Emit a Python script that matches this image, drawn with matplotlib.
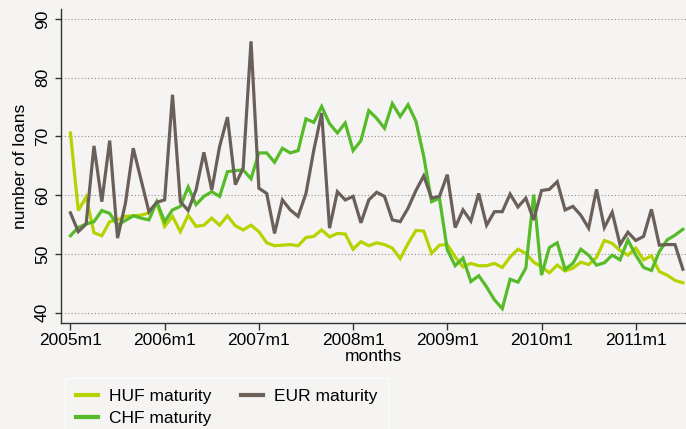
import numpy as np
import matplotlib
matplotlib.use("Agg")
import matplotlib.pyplot as plt

# ==========================
# Data (monthly, 2005m1 .. 2011m7)
# ==========================
huf = [70.6, 57.4, 59.7, 53.6, 53.1, 55.5, 55.8, 56.4, 56.5, 56.6, 57.0, 58.6,
       54.7, 56.4, 53.8, 56.6, 54.7, 54.9, 56.1, 54.9, 56.5, 54.8, 54.1, 54.9,
       53.8, 51.9, 51.4, 51.5, 51.6, 51.4, 52.8, 53.0, 54.1, 52.9, 53.5, 53.4,
       50.8, 52.1, 51.4, 51.9, 51.6, 51.0, 49.2, 51.8, 54.0, 53.9, 50.1, 51.5,
       51.6, 49.5, 47.8, 48.4, 48.0, 48.0, 48.4, 47.7, 49.5, 50.8, 50.1, 48.6,
       47.8, 46.8, 48.1, 47.1, 47.6, 48.6, 48.2, 49.4, 52.3, 51.8, 50.6, 49.8,
       51.0, 49.0, 49.7, 47.0, 46.4, 45.5, 45.1]
chf = [53.1, 54.5, 55.1, 55.5, 57.4, 56.9, 54.9, 55.7, 56.5, 56.1, 55.8, 58.9,
       55.5, 57.5, 58.1, 61.4, 58.4, 59.8, 60.6, 59.8, 64.0, 64.2, 64.3, 62.8,
       67.2, 67.2, 65.6, 68.0, 67.2, 67.6, 73.0, 72.4, 75.1, 72.2, 70.6, 72.3,
       67.6, 69.3, 74.4, 73.1, 71.4, 75.6, 73.4, 75.4, 72.6, 66.6, 58.9, 59.5,
       50.7, 48.0, 49.3, 45.3, 46.3, 44.4, 42.2, 40.7, 45.7, 45.2, 47.6, 60.1,
       46.4, 51.1, 51.9, 47.4, 48.4, 50.8, 49.8, 48.1, 48.5, 49.8, 49.0, 52.4,
       49.8, 47.7, 47.2, 50.4, 52.4, 53.2, 54.2]
eur = [57.0, 53.8, 55.1, 68.4, 58.9, 69.3, 52.7, 58.6, 68.0, 62.6, 57.2, 58.8,
       59.2, 77.1, 58.9, 57.4, 60.9, 67.3, 60.9, 68.3, 73.3, 61.8, 64.6, 86.2,
       61.2, 60.3, 53.5, 59.2, 57.5, 56.4, 60.3, 67.7, 74.0, 54.4, 60.6, 59.2,
       59.8, 55.3, 59.2, 60.5, 59.8, 55.8, 55.5, 57.8, 60.8, 63.3, 59.5, 59.8,
       63.5, 54.5, 57.5, 55.6, 60.3, 54.9, 57.2, 57.2, 60.2, 58.0, 59.5, 55.8,
       60.8, 61.0, 62.3, 57.5, 58.1, 56.6, 54.4, 61.0, 54.5, 57.1, 51.6, 53.7,
       52.3, 53.0, 57.6, 51.5, 51.6, 51.6, 47.4]

months = np.arange(len(huf))
tick_pos = [0, 12, 24, 36, 48, 60, 72]
tick_labels = ["2005m1", "2006m1", "2007m1", "2008m1", "2009m1", "2010m1", "2011m1"]
y_ticks = [40, 50, 60, 70, 80, 90]

BG = "#f5f4f2"
C_HUF = "#b5d300"
C_CHF = "#55bb28"
C_EUR = "#6b6059"
FS = 12.5

plt.rcParams['font.family'] = ['Liberation Sans', 'DejaVu Sans']

fig = plt.figure(figsize=(6.86, 4.29), dpi=100, facecolor=BG)
W, H = 686, 429
ax = fig.add_axes([61 / W, (H - 323) / H, (686 - 61) / W, (323 - 9) / H])
ax.set_facecolor(BG)

ax.plot(months, huf, color=C_HUF, lw=2.3, label="HUF maturity", solid_joinstyle="miter")
ax.plot(months, chf, color=C_CHF, lw=2.3, label="CHF maturity", solid_joinstyle="miter")
ax.plot(months, eur, color=C_EUR, lw=2.3, label="EUR maturity", solid_joinstyle="miter")

ax.set_xlim(-1.2, 78.4)
ax.set_ylim(38.25, 91.7)
ax.set_xticks(tick_pos)
ax.set_xticklabels(tick_labels, fontsize=FS)
ax.set_yticks(y_ticks)
ax.set_yticklabels([str(v) for v in y_ticks], fontsize=FS, rotation=90, va="center")
ax.tick_params(axis="x", length=5, width=1, color="#333333", pad=2)
ax.tick_params(axis="y", length=4, width=1, color="#333333", pad=4)

ax.grid(axis="y", linestyle=(0, (1, 2)), color="#8f8f8f", lw=0.8)
ax.set_axisbelow(True)
for s in ["top", "right"]:
    ax.spines[s].set_visible(False)
for s in ["left", "bottom"]:
    ax.spines[s].set_color("#333333")
    ax.spines[s].set_linewidth(1.0)

ax.set_xlabel("months", fontsize=FS, labelpad=1)
ax.set_ylabel("number of loans", fontsize=FS, labelpad=5)

leg = fig.legend(loc="upper left", bbox_to_anchor=(65 / W, 1 - 378 / H), ncol=2,
                 fontsize=FS, frameon=True, fancybox=False, handlelength=1.27,
                 handletextpad=0.62, columnspacing=1.73, borderpad=0.62,
                 labelspacing=0.4, borderaxespad=0)
leg.get_frame().set_facecolor(BG)
leg.get_frame().set_edgecolor("white")
leg.get_frame().set_linewidth(1.0)
for h in leg.get_lines():
    h.set_linewidth(3.0)

fig.savefig("out.png", dpi=100, facecolor=BG)
